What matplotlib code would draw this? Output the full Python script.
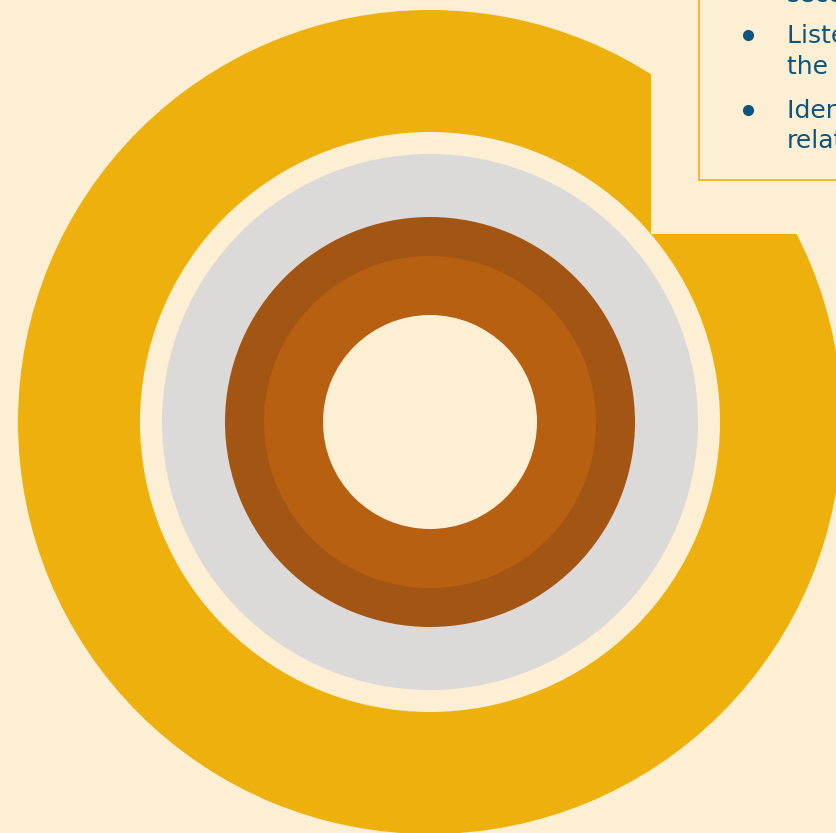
import matplotlib.pyplot as plt
from matplotlib.patches import Rectangle

# ring layers, outer to inner
layers = ['outer', 'gap', 'grey', 'dark', 'orange', 'core']
shares = [1, 1, 1, 1, 1, 1]
# text box lines (cut by the right edge in the original)
lines = ['second', 'Listen to the speaker and', 'the recording',
         'Identify the key', 'relationships']
bullet_rows = [1, 3]

bg = '#FCEFD3'
colors = ['#EDB00D', bg, '#DCDAD9', '#A35614', '#B86012', bg]
radii = [412, 290, 268, 205, 166, 107]
cx, cy = 430, 422
baselines = [2, 43, 74, 118, 148]
txt_col = '#0B5580'

fig = plt.figure(figsize=(8.37, 8.33), dpi=100)
fig.patch.set_facecolor(bg)
ax = fig.add_axes([0, 0, 1, 1])
ax.set_facecolor(bg)

for name, val, col, r in zip(layers, shares, colors, radii):
    ax.pie([val], colors=[col], radius=r, center=(cx, cy),
           wedgeprops=dict(linewidth=0), frame=True)

# notch cut out of the outer ring behind the text box
ax.add_patch(Rectangle((651, -20), 300, 254, facecolor=bg, edgecolor='none', zorder=3))

# text box
ax.add_patch(Rectangle((699, -20), 300, 200, facecolor=bg, edgecolor='#EDB00D',
                       linewidth=1.2, zorder=4))

for i, (s, y) in enumerate(zip(lines, baselines)):
    ax.text(787, y, s, color=txt_col, fontsize=18, family='DejaVu Sans', zorder=5,
            va='baseline', ha='left')
    if i in bullet_rows:
        ax.plot(748, y - 8, 'o', color=txt_col, ms=7, zorder=5)

ax.set_xlim(0, 837)
ax.set_ylim(833, 0)
ax.set_aspect('equal')
ax.axis('off')

fig.savefig('out.png', dpi=100, facecolor=bg)
